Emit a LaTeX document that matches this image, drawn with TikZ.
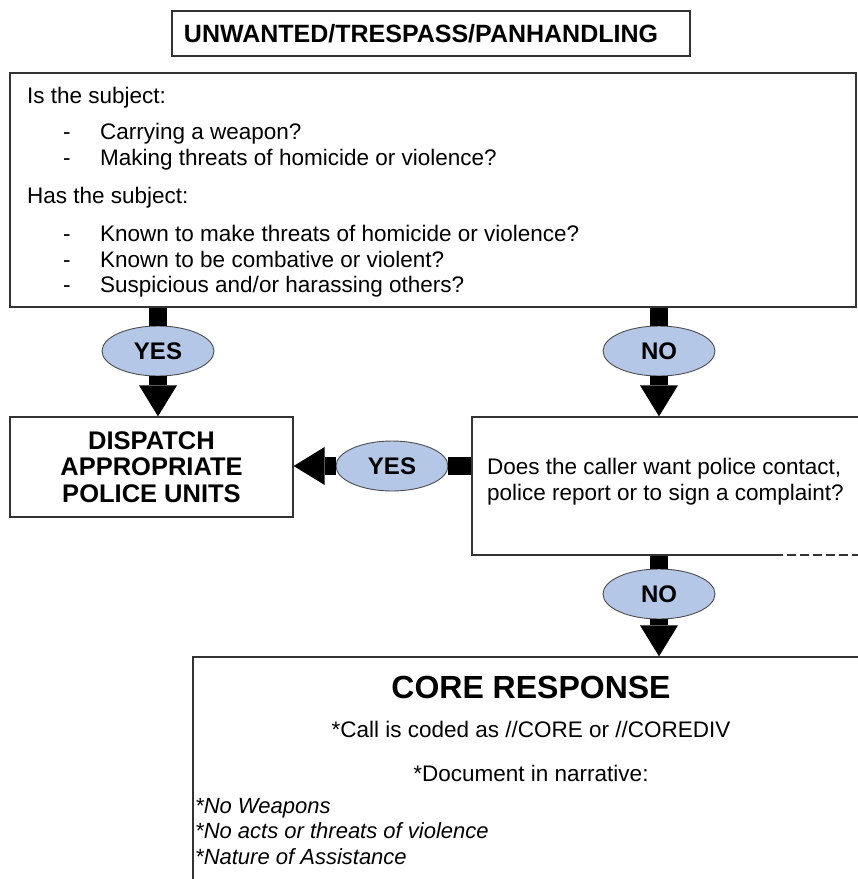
\documentclass[tikz,border=0pt]{standalone}
\usepackage{fontspec}
\setmainfont{Liberation Sans}
\usetikzlibrary{arrows.meta,shapes.geometric}
\definecolor{ovalblue}{HTML}{B4C7E7}
\tikzset{
  box/.style={draw=black!80, line width=1.3pt, fill=white, inner sep=0pt},
  txt/.style={inner sep=0pt, font=\fontsize{22.5}{26}\selectfont},
  oval/.style={ellipse, draw=black!70, line width=0.9pt, fill=ovalblue, minimum width=112pt, minimum height=50pt, inner sep=0pt, font=\bfseries\fontsize{24}{26}\selectfont},
  shaft/.style={line width=18pt},
  pointer/.style={line width=18pt, -{Triangle[width=38pt, length=31pt, line width=0pt]}},
}

\begin{document}
\begin{tikzpicture}[x=1pt,y=-1pt]
			%%%%% FRAME %%%%%
			\useasboundingbox (0,0) rectangle (858,879);
			\fill[white] (0,0) rectangle (858,879);
			\clip (0,0) rectangle (858,879);
			
			%%%%% BOXES %%%%%
			\node[box, minimum width=518pt, minimum height=45pt] (title) at (431,33.5) {};
			\node[box, minimum width=846pt, minimum height=234pt] (q) at (433,190) {};
			\node[box, minimum width=283pt, minimum height=100pt, align=center, font=\bfseries\fontsize{25.5}{26.5}\selectfont] (disp) at (151.5,467) {DISPATCH\\APPROPRIATE\\POLICE UNITS};
			\node[box, minimum width=408pt, minimum height=138pt] (ask) at (676,486) {};
			\node[box, minimum width=677pt, minimum height=246pt] (core) at (531.5,780) {};
			
			%%%%% TEXT %%%%%
			\node[txt, font=\bfseries\fontsize{25}{28}\selectfont] (titletext) at (421,33.5) {UNWANTED/TRESPASS/PANHANDLING};
			\node[txt, anchor=base west] (is) at (27,103) {Is the subject:};
			\node[txt, anchor=base west] (has) at (27,203) {Has the subject:};
			\foreach \y/\t [count=\i] in {139/{Carrying a weapon?}, 165/{Making threats of homicide or violence?}, 241/{Known to make threats of homicide or violence?}, 267/{Known to be combative or violent?}, 292/{Suspicious and/or harassing others?}}{
				\node[txt, anchor=base west] (dash\i) at (63,\y) {-};
				\node[txt, anchor=base west] (item\i) at (100,\y) {\t};
			}
			
			\node[txt, anchor=base west] (ask1) at (487,474) {Does the caller want police contact,};
			\node[txt, anchor=base west] (ask2) at (487,500) {police report or to sign a complaint?};
			
			\node[txt, anchor=base, font=\bfseries\fontsize{32}{34}\selectfont] (coretitle) at (531,698) {CORE RESPONSE};
			\node[txt, anchor=base] (code) at (531,737) {*Call is coded as //CORE or //COREDIV};
			\node[txt, anchor=base] (doc) at (531,781) {*Document in narrative:};
			\node[txt, anchor=base west, font=\itshape\fontsize{22}{26}\selectfont] (nw) at (195,813) {*No Weapons};
			\node[txt, anchor=base west, font=\itshape\fontsize{22}{26}\selectfont] (nv) at (195,838) {*No acts or threats of violence};
			\node[txt, anchor=base west, font=\itshape\fontsize{22}{26}\selectfont] (na) at (195,864) {*Nature of Assistance};
			
			%%%%% OVALS %%%%%
			\node[oval] (yes1) at (158,351) {YES};
			\node[oval] (no1) at (659,351) {NO};
			\node[oval] (yes2) at (392,466) {YES};
			\node[oval] (no2) at (659,594) {NO};
			
			%%%%% ARROWS %%%%%
			\draw[shaft] (q.south -| yes1) -- (yes1.north);
			\draw[pointer] (yes1.south) -- (disp.north -| yes1);
			\draw[shaft] (q.south -| no1) -- (no1.north);
			\draw[pointer] (no1.south) -- (ask.north -| no1);
			\draw[shaft] (ask.west |- yes2) -- (yes2.east);
			\draw[pointer] (yes2.west) -- (disp.east |- yes2);
			\draw[shaft] (ask.south -| no2) -- (no2.north);
			\draw[pointer] (no2.south) -- (core.north -| no2);
			
			% broken edge of the question box
			\draw[white, line width=2pt, dash pattern=on 4pt off 9pt] (783,555) -- (858,555);
		\end{tikzpicture}
\end{document}
